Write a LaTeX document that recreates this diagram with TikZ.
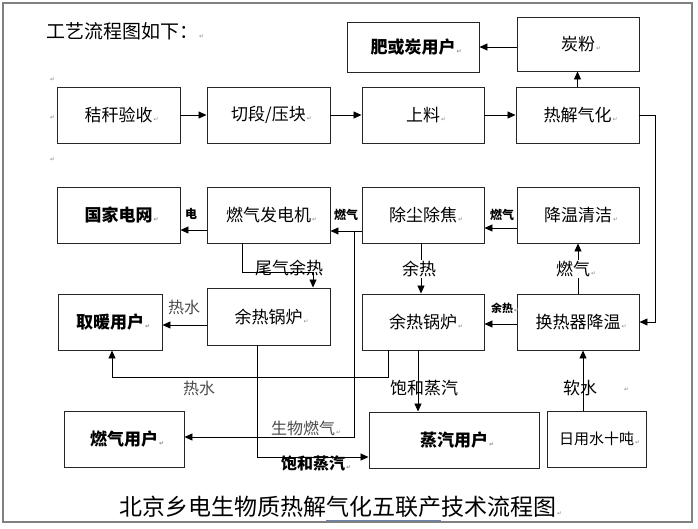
\documentclass[tikz,border=0pt]{standalone}
\usepackage{fontspec}
\setmainfont{Noto Sans CJK SC}
\newfontfamily\dejavu{DejaVu Sans}
\usetikzlibrary{arrows.meta}
\newcommand\pmk{\rlap{\kern1pt{\dejavu\fontsize{6}{6}\selectfont\color{black!45}↵}}}
\tikzset{
  box/.style={draw=black!85, line width=0.95pt, minimum width=123pt, minimum height=56pt, inner sep=0pt, font=\fontsize{17}{17}\selectfont},
  bbox/.style={box, font=\fontsize{17}{17}\selectfont\bfseries},
  arr/.style={line width=0.85pt, -{Triangle[length=8pt,width=7pt]}},
  lab/.style={font=\fontsize{17}{17}\selectfont, inner sep=1pt},
  glab/.style={font=\fontsize{16}{16}\selectfont, inner sep=1pt, text=black!70},
  slab/.style={font=\fontsize{12}{12}\selectfont\bfseries, inner sep=1pt},
}
\begin{document}
\begin{tikzpicture}[x=1pt,y=-1pt]
\useasboundingbox (0,0) rectangle (698,528);
\fill[white] (0,0) rectangle (698,528);
\draw[black!50,line width=1.2pt] (3,3) rectangle (692,522);

% titles
\node[anchor=west, font=\fontsize{19}{19}\selectfont, inner sep=0pt] (t1) at (46,31) {工艺流程图如下：\pmk};
\node[font=\fontsize{23}{23}\selectfont, inner sep=0pt] (t2) at (337.5,507) {北京乡电生物质热解气化五联产技术流程图\pmk};
\draw[color={rgb,255:red,110;green,130;blue,175}, line width=1pt] (326,520) -- (441,520);
\node[inner sep=0pt] (m1) at (49,80) {\pmk};
\node[inner sep=0pt] (m2) at (49,118) {\pmk};
\node[inner sep=0pt] (m3) at (49,160) {\pmk};

% row 1
\node[bbox, minimum width=132pt, minimum height=50pt] (fert) at (413,47) {肥或炭用户\pmk};
\node[box, minimum width=122pt, minimum height=54pt] (char) at (578,44) {炭粉\pmk};
% row 2
\node[box] (straw) at (118.5,115) {秸秆验收\pmk};
\node[box] (cut) at (268.5,115) {切段/压块\pmk};
\node[box, minimum width=122pt] (feed) at (423,115) {上料\pmk};
\node[box] (pyro) at (577.5,115) {热解气化\pmk};
% row 3
\node[bbox] (grid) at (118.5,215) {国家电网\pmk};
\node[box] (gen) at (268.5,215) {燃气发电机\pmk};
\node[box, minimum width=122pt] (dust) at (423,215) {除尘除焦\pmk};
\node[box, minimum width=122pt] (cool) at (578,215) {降温清洁\pmk};
% row 4
\node[bbox, minimum width=104pt] (heat) at (110,322) {取暖用户\pmk};
\node[box, minimum height=57pt] (boilL) at (268.5,316.5) {余热锅炉\pmk};
\node[box, minimum width=122pt] (boilR) at (423,322) {余热锅炉\pmk};
\node[box, minimum width=122pt] (hx) at (578,322) {换热器降温\pmk};
% row 5
\node[bbox, minimum width=120pt] (gasU) at (124,439) {燃气用户\pmk};
\node[bbox, minimum width=170pt] (steamU) at (454,440) {蒸汽用户\pmk};
\node[box, minimum width=99pt, font=\fontsize{15}{15}\selectfont] (water) at (596.5,439) {日用水十吨\pmk};

% connectors
\draw[arr] (straw.east) -- (cut.west);
\draw[arr] (cut.east) -- (feed.west);
\draw[arr] (feed.east) -- (pyro.west);
\draw[arr] (pyro.north) -- (pyro.north |- char.south);
\draw[arr] (fert.east -| char.west) -- (fert.east);
\coordinate (pr) at (655,115);
\draw[arr] (pyro.east) -- (pr) |- (hx.east);
\draw[arr] (hx.north) -- (cool.south);
\draw[arr] ([yshift=-13pt]cool.west) -- ([yshift=-13pt]dust.east);
\draw[arr] ([yshift=-16pt]dust.west) -- ([yshift=-16pt]gen.east);
\draw[arr] ([yshift=-15pt]gen.west) -- ([yshift=-15pt]grid.east);
\coordinate (tq) at (313,272);
\draw[arr] ([xshift=-26.5pt]gen.south) |- (tq) -- (tq |- boilL.north);
\draw[arr] ([xshift=-2pt]dust.south) -- ([xshift=-2pt]boilR.north);
\draw[arr] ([yshift=-2pt]hx.west) -- ([yshift=-2pt]boilR.east);
\draw[arr] ([yshift=-8.5pt]boilL.west) -- ([yshift=-8.5pt]boilL.west -| heat.east);
\coordinate (hw) at (112,377);
\draw[arr] ([xshift=-35pt]boilR.south) |- (hw) -- (hw |- heat.south);
\draw[arr] ([xshift=-5pt]boilR.south) -- ([xshift=-5pt]boilR.south |- steamU.north);
\draw[arr] ([xshift=-13.5pt]water.north) -- ([xshift=-13.5pt]water.north |- hx.south);
\draw[arr] ([xshift=-11.5pt]boilL.south) |- ([yshift=-17pt]steamU.west);
\coordinate (bg) at (354,231);
\draw[arr] (bg) |- ([yshift=2pt]gasU.east);

% labels
\node[slab] (l1) at (191,214) {电};
\node[slab] (l2) at (346,215) {燃气};
\node[slab] (l3) at (502,215) {燃气};
\node[lab] (l4) at (289,268) {尾气余热};
\node[lab, fill=white] (l5) at (419,269) {余热};
\node[lab, fill=white] (l6) at (573,269) {燃气\pmk};
\node[slab, font=\fontsize{11}{11}\selectfont\bfseries] (l7) at (502,308) {余热\pmk};
\node[glab] (l8) at (184,307) {热水};
\node[glab] (l9) at (199,388) {热水};
\node[lab] (l10) at (424,388) {饱和蒸汽};
\node[lab] (l11) at (580,388) {软水};
\node[inner sep=0pt] (m4) at (623,390) {\pmk};
\node[glab] (l12) at (303,428) {生物燃气\pmk};
\node[lab, font=\fontsize{16}{16}\selectfont\bfseries] (l13) at (313,463) {饱和蒸汽\pmk};
\end{tikzpicture}
\end{document}
